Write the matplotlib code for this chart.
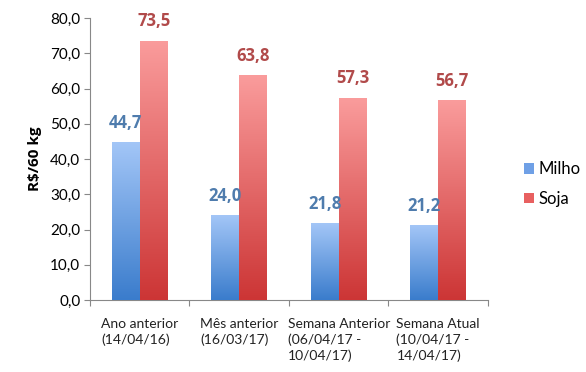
import matplotlib
matplotlib.use("Agg")
import matplotlib.pyplot as plt
import numpy as np
from matplotlib.colors import LinearSegmentedColormap

categorias = ["Ano anterior\n(14/04/16)", "Mês anterior\n(16/03/17)",
              "Semana Anterior\n(06/04/17 -\n10/04/17)", "Semana Atual\n(10/04/17 -\n14/04/17)"]
milho = [44.7, 24.0, 21.8, 21.2]
soja = [73.5, 63.8, 57.3, 56.7]

plt.rcParams['font.family'] = ['Lato', 'DejaVu Sans']

fig = plt.figure(figsize=(5.86, 3.72), dpi=100)
ax = fig.add_axes([0.1536, 0.1935, 0.679, 0.758])

x = np.arange(len(categorias))
w = 0.28
b1 = ax.bar(x - w / 2, milho, w, color='#6fa0e6', label='Milho', zorder=2)
b2 = ax.bar(x + w / 2, soja, w, color='#e86060', label='Soja', zorder=2)

# degrade vertical dentro de cada barra
cm_azul = LinearSegmentedColormap.from_list('az', ['#3a7ccc', '#a3c6f7'])
cm_verm = LinearSegmentedColormap.from_list('vm', ['#cc3535', '#fa9c9c'])
grad = np.linspace(0, 1, 256).reshape(-1, 1)
for barras, cm in ((b1, cm_azul), (b2, cm_verm)):
    for p in barras:
        x0, y0 = p.get_x(), p.get_y()
        im = ax.imshow(grad, cmap=cm, origin='lower', aspect='auto',
                       extent=[x0, x0 + p.get_width(), y0, y0 + p.get_height()], zorder=3)
        im.set_clip_path(p)

for p, v in zip(b1, milho):
    ax.text(p.get_x() + p.get_width() / 2, v + 3, f"{v:.1f}".replace('.', ','),
            ha='center', va='bottom', fontsize=12, fontweight='bold', color='#4f7cad',
            family=['Open Sans', 'DejaVu Sans'])
for p, v in zip(b2, soja):
    ax.text(p.get_x() + p.get_width() / 2, v + 3, f"{v:.1f}".replace('.', ','),
            ha='center', va='bottom', fontsize=12, fontweight='bold', color='#b14a4a',
            family=['Open Sans', 'DejaVu Sans'])

ax.set_xlim(-0.5, len(categorias) - 0.5)
ax.set_ylim(0, 80)
ax.set_yticks(np.arange(0, 81, 10))
ax.set_yticklabels([f"{t:.1f}".replace('.', ',') for t in np.arange(0, 81, 10)], fontsize=11)
ax.set_xticks(np.arange(-0.5, len(categorias), 1))
ax.set_xticklabels([])
ax.tick_params(axis='both', direction='out', length=4, color='#888888')
ax.tick_params(axis='y', pad=3)
for i, c in enumerate(categorias):
    ax.text(i, -5.0, c, ha='center', va='top', multialignment='left', fontsize=10,
            linespacing=1.35, color='#222222')

for s in ['top', 'right']:
    ax.spines[s].set_visible(False)
for s in ['left', 'bottom']:
    ax.spines[s].set_color('#888888')

ax.set_ylabel('R$/60 kg', fontsize=11, fontweight='bold', labelpad=6,
              family=['Open Sans', 'DejaVu Sans'])

leg = fig.legend(handles=[b1, b2], loc='center left', bbox_to_anchor=(0.868, 0.505),
                 frameon=False, fontsize=12, handlelength=0.6, handleheight=0.6,
                 handletextpad=0.3, labelspacing=0.8)

fig.savefig('out.png', dpi=100)
